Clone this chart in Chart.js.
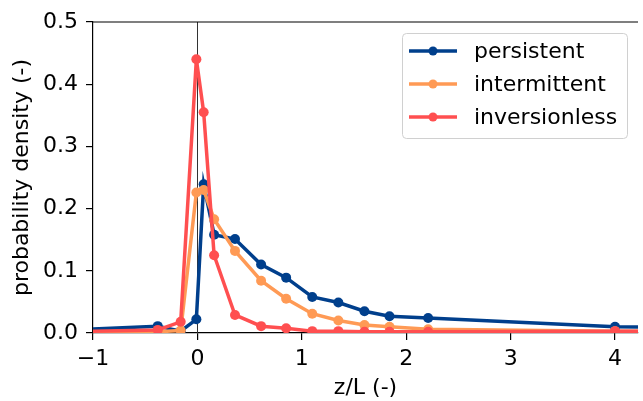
<!DOCTYPE html>
<html>
<head>
<meta charset="utf-8">
<script src="https://cdn.jsdelivr.net/npm/chart.js@4/dist/chart.umd.min.js"></script>
<style>
  html, body { margin: 0; padding: 0; background: #fff; }
  #wrap { width: 643px; height: 401px; }
</style>
</head>
<body>
<div id="wrap"><canvas id="chart" width="643" height="401"></canvas></div>
<script>
// z/L bin positions (first and last lie outside the visible x range)
const zL = [-1.6, -0.38, -0.16, -0.01, 0.06, 0.16, 0.36, 0.61, 0.85, 1.1, 1.35, 1.6, 1.84, 2.21, 4.0, 6.0];

const persistent    = [0.002, 0.011, 0.003, 0.022, 0.239, 0.158, 0.151, 0.110, 0.089, 0.058, 0.049, 0.035, 0.027, 0.024, 0.010, 0.006];
const intermittent  = [0.001, 0.002, 0.004, 0.226, 0.230, 0.183, 0.132, 0.084, 0.055, 0.031, 0.020, 0.013, 0.010, 0.006, 0.003, 0.002];
const inversionless = [0.001, 0.005, 0.018, 0.440, 0.355, 0.125, 0.029, 0.011, 0.0075, 0.003, 0.003, 0.002, 0.002, 0.002, 0.003, 0.001];

const seriesNames = ['persistent', 'intermittent', 'inversionless'];
const seriesColors = ['#003f8c', '#ff9a55', '#ff4f50'];

const xTicks = [-1, 0, 1, 2, 3, 4];
const yTicks = [0.0, 0.1, 0.2, 0.3, 0.4, 0.5];

const FONT = "'DejaVu Sans', sans-serif";

function toPoints(values) {
  return values.map((v, i) => ({ x: zL[i], y: v }));
}

const seriesValues = [persistent, intermittent, inversionless];
const datasets = seriesValues.map((vals, i) => ({
  label: seriesNames[i],
  data: toPoints(vals),
  borderColor: seriesColors[i],
  backgroundColor: seriesColors[i],
  pointBackgroundColor: seriesColors[i],
  pointBorderWidth: 0,
  pointRadius: 5,
  borderWidth: 3.5,
  tension: 0,
  // later series drawn on top, like matplotlib
  order: seriesValues.length - i
}));

// thin vertical line at z/L = 0 and the top spine
const framePlugin = {
  id: 'frame',
  beforeDatasetsDraw(chart) {
    const { ctx, chartArea, scales } = chart;
    const x0 = Math.round(scales.x.getPixelForValue(0)) + 0.5;
    ctx.save();
    ctx.strokeStyle = '#333';
    ctx.lineWidth = 1;
    ctx.beginPath();
    ctx.moveTo(x0, chartArea.top);
    ctx.lineTo(x0, chartArea.bottom);
    ctx.stroke();
    ctx.restore();
  },
  afterDraw(chart) {
    const { ctx, chartArea } = chart;
    ctx.save();
    ctx.strokeStyle = '#000';
    ctx.lineWidth = 1.2;
    ctx.beginPath();
    ctx.moveTo(chartArea.left, chartArea.top);
    ctx.lineTo(chartArea.right, chartArea.top);
    ctx.stroke();
    ctx.restore();
  }
};

// matplotlib-style legend: line sample with marker, inside the plot at upper right
const legendPlugin = {
  id: 'mplLegend',
  afterDraw(chart) {
    const { ctx, chartArea } = chart;
    const w = 225, h = 105, r = 4;
    const left = chartArea.right - 11 - w;
    const top = chartArea.top + 11;
    ctx.save();
    ctx.fillStyle = 'rgba(255,255,255,0.85)';
    ctx.strokeStyle = '#d0d0d0';
    ctx.lineWidth = 1;
    ctx.beginPath();
    ctx.roundRect(left + 0.5, top + 0.5, w, h, r);
    ctx.fill();
    ctx.stroke();

    ctx.font = '22px ' + FONT;
    ctx.textBaseline = 'middle';
    ctx.textAlign = 'left';
    chart.data.datasets.forEach((ds, i) => {
      const y = top + 18 + i * 33;
      ctx.strokeStyle = ds.borderColor;
      ctx.lineWidth = 3.5;
      ctx.beginPath();
      ctx.moveTo(left + 7, y);
      ctx.lineTo(left + 55, y);
      ctx.stroke();
      ctx.fillStyle = ds.borderColor;
      ctx.beginPath();
      ctx.arc(left + 31, y, 4.5, 0, Math.PI * 2);
      ctx.fill();
      ctx.fillStyle = '#000';
      ctx.fillText(ds.label, left + 72, y + 1);
    });
    ctx.restore();
  }
};

new Chart(document.getElementById('chart').getContext('2d'), {
  type: 'line',
  data: { datasets },
  options: {
    responsive: false,
    animation: false,
    layout: { padding: { top: 22, right: 0, left: 0, bottom: 0 } },
    plugins: {
      legend: { display: false },
      tooltip: { enabled: false }
    },
    scales: {
      x: {
        type: 'linear',
        min: -1,
        max: 4.22,
        afterFit(scale) { scale.height = 68; },
        afterBuildTicks(scale) { scale.ticks = xTicks.map(v => ({ value: v })); },
        border: { display: true, color: '#000', width: 1.2 },
        grid: { display: true, drawOnChartArea: false, tickLength: 7, color: '#000', lineWidth: 1.2 },
        ticks: {
          color: '#000',
          padding: 6,
          maxRotation: 0,
          font: { family: FONT, size: 22 },
          callback: v => (v < 0 ? '\u2212' + Math.abs(v) : String(v))
        },
        title: {
          display: true,
          text: 'z/L (-)',
          color: '#000',
          font: { family: FONT, size: 22 },
          padding: { top: 0, bottom: 0 }
        }
      },
      y: {
        type: 'linear',
        min: 0,
        max: 0.5,
        afterFit(scale) { scale.width = 93; },
        afterBuildTicks(scale) { scale.ticks = yTicks.map(v => ({ value: v })); },
        border: { display: true, color: '#000', width: 1.2 },
        grid: { display: true, drawOnChartArea: false, tickLength: 7, color: '#000', lineWidth: 1.2 },
        ticks: {
          color: '#000',
          padding: 8,
          font: { family: FONT, size: 22 },
          callback: v => Number(v).toFixed(1)
        },
        title: {
          display: true,
          text: 'probability density (-)',
          color: '#000',
          font: { family: FONT, size: 22 },
          padding: { top: 9, bottom: 0 }
        }
      }
    }
  },
  plugins: [framePlugin, legendPlugin]
});
</script>
</body>
</html>
